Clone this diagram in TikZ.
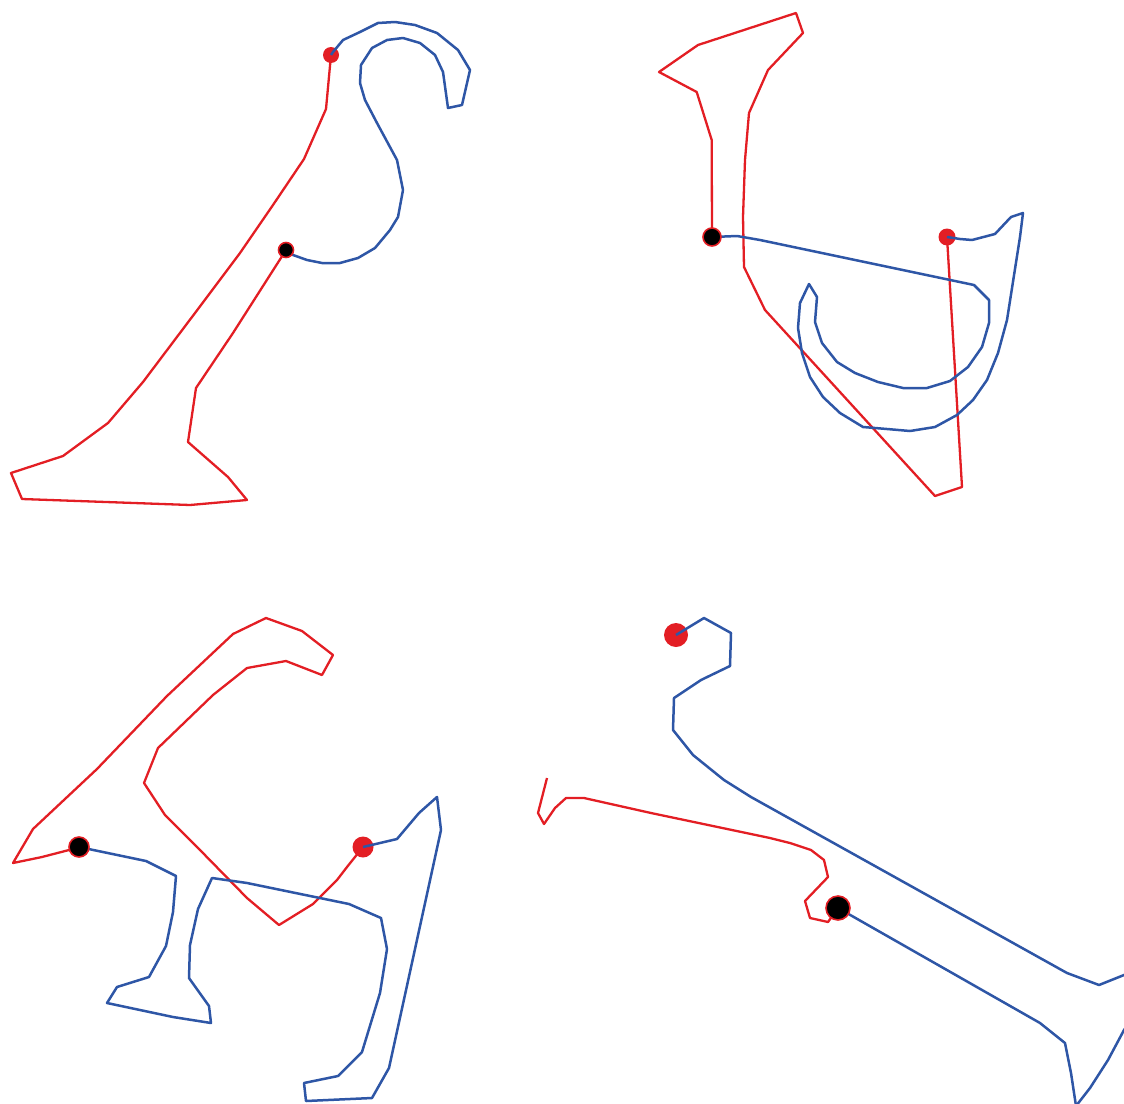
\documentclass[tikz,border=0pt]{standalone}
\usepackage{tikz}
\definecolor{lred}{RGB}{227,30,36}
\definecolor{lblue}{RGB}{46,86,166}

\begin{document}
\begin{tikzpicture}[x=0.5pt,y=-0.5pt,line join=round,
  redline/.style={lred,line width=1.15pt},
  blueline/.style={lblue,line width=1.25pt},
  reddot/.style={circle,fill=lred,inner sep=0pt},
  blackdot/.style={circle,fill=black,draw=lred,line width=0.8pt,inner sep=0pt}]
\useasboundingbox (0,0) rectangle (1124,1103);
\clip (0,0) rectangle (1124,1103);
\coordinate (p1r) at (331,55);
\coordinate (p1k) at (286,250);
\coordinate (p2k) at (712,237);
\coordinate (p2r) at (947,237);
\coordinate (p3k) at (79,847);
\coordinate (p3r) at (363,847);
\coordinate (p4r) at (676,635);
\coordinate (p4k) at (838,908);
\coordinate (p4e) at (547,778);
\draw [redline] (p1r) -- (326,109) -- (304,159) -- (273,205) -- (240,253) -- (192,317) -- (143,382) -- (108,423) -- (63,456) -- (11,473) -- (22,499) -- (190,505) -- (247,500) -- (228,477) -- (188,442) -- (196,388) -- (233,333) -- (p1k);
\draw [redline] (p2k) -- (711.7,140) -- (696.7,92) -- (659,72) -- (698,45) -- (796,13) -- (803,33) -- (768,70) -- (749,113) -- (745,160) -- (743,217) -- (744,267) -- (765,310) -- (935,496) -- (962,487) -- (p2r);
\draw [redline] (p3r) -- (347,867) -- (337,880) -- (313,904) -- (279,925) -- (247,898) -- (200,850) -- (165,815) -- (144,783) -- (158,748) -- (213,695) -- (247,668) -- (286,661) -- (322,675) -- (333,655) -- (302,631) -- (266,618) -- (233,634) -- (167,696) -- (97,769) -- (33,829) -- (13,863) -- (42,857) -- (69,850) -- (p3k);
\draw [redline] (p4k) -- (828,922) -- (810,918) -- (805,901) -- (828,877) -- (824,860) -- (811,850) -- (790,843) -- (770,838) -- (651,813) -- (584,798) -- (566,798) -- (555,808) -- (544,824) -- (538,813) -- (p4e);
\node [reddot,minimum size=8pt] (d1r) at (p1r) {};
\node [reddot,minimum size=8.5pt] (d2r) at (p2r) {};
\node [reddot,minimum size=10.5pt] (d3r) at (p3r) {};
\node [reddot,minimum size=12pt] (d4r) at (p4r) {};
\draw [blueline] (p1r) -- (333,52) -- (343,40) -- (360,32) -- (378,23) -- (395,22) -- (415,25) -- (437,33) -- (458,50) -- (470,70) -- (462,105) -- (448,108) -- (443,72) -- (435,55) -- (420,43) -- (403,38) -- (387,40) -- (372,48) -- (361,65) -- (360,83) -- (365,100) -- (377,123) -- (397,160) -- (403,190) -- (398,217) -- (390,230) -- (375,248) -- (358,258) -- (340,263) -- (322,263) -- (307,260) -- (293,255) -- (p1k);
\draw [blueline] (p2k) -- (737,236) -- (760,240) -- (974,285) -- (989,300) -- (989,323) -- (982,347) -- (968,367) -- (950,381) -- (927,388) -- (903,388) -- (878,382) -- (855,373) -- (837,362) -- (822,343) -- (815,322) -- (817,297) -- (809,284) -- (800,303) -- (798,328) -- (802,353) -- (810,377) -- (823,397) -- (840,413) -- (863,427) -- (887,429) -- (910,431) -- (935,427) -- (957,415) -- (973,400) -- (987,380) -- (998,353) -- (1007,320) -- (1020,237) -- (1023,213) -- (1011,217) -- (995,234) -- (972,240) -- (960,239) -- (p2r);
\draw [blueline] (p3k) -- (146,861) -- (176,876) -- (173,912) -- (166,946) -- (149,977) -- (117,987) -- (107,1003) -- (173,1017) -- (211,1023) -- (209,1006) -- (189,978) -- (190,945) -- (198,909) -- (212,878) -- (247,883) -- (349,904) -- (381,918) -- (387,949) -- (380,993) -- (362,1052) -- (338,1076) -- (304,1083) -- (306,1101) -- (372,1098) -- (389,1068) -- (441,830) -- (437,797) -- (419,813) -- (397,839) -- (p3r);
\draw [blueline] (p4r) -- (704,618) -- (731,633) -- (730,666) -- (701,680) -- (674,698) -- (673,730) -- (693,755) -- (724,780) -- (751,797) -- (1067,973) -- (1099,985) -- (1124,975) -- (1145,966) -- (1145,1000) -- (1124,1030) -- (1108,1060) -- (1090,1088) -- (1076,1106) -- (1071,1073) -- (1065,1043) -- (1040,1023) -- (p4k);
\node [blackdot,minimum size=7.5pt] (d1k) at (p1k) {};
\node [blackdot,minimum size=9pt] (d2k) at (p2k) {};
\node [blackdot,minimum size=10pt] (d3k) at (p3k) {};
\node [blackdot,minimum size=12pt] (d4k) at (p4k) {};
\end{tikzpicture}
\end{document}
